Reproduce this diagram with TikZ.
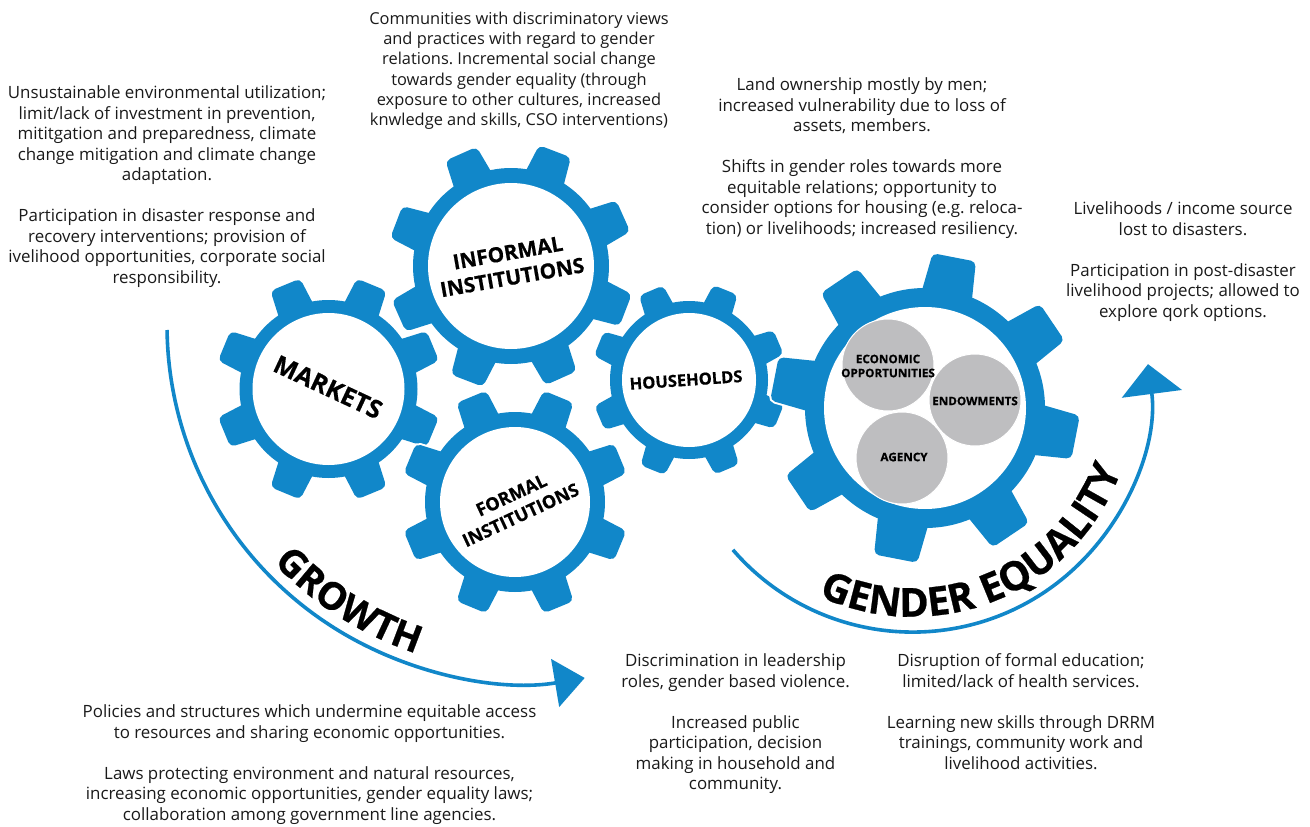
\documentclass[tikz,border=0pt]{standalone}
\usepackage{fontspec}
\setmainfont{Open Sans}
\newfontfamily\lblfont{Open Sans}[FakeBold=0.6]
\usetikzlibrary{arrows.meta,decorations.text}
\definecolor{gblue}{RGB}{17,135,201}
\definecolor{ggrey}{RGB}{190,190,192}
\definecolor{txt}{RGB}{26,26,26}
\frenchspacing
\newcommand\fl{\rule{0pt}{16pt}}
\newcommand\drawgear[8]{%
 \begin{scope}[shift={(#1,#2)}]
  \pgfmathsetmacro\gdt{asin(#5/#4)}
  \pgfmathsetmacro\gdb{asin(#6/(#3-8))}
  \foreach \k in {0,...,7}{
   \pgfmathsetmacro\ga{#7+45*\k}
   \draw[white, line width=4pt, rounded corners=5pt] ({\ga-\gdb}:{#3-8}) -- ({\ga-\gdt}:{#4}) -- ({\ga+\gdt}:{#4}) -- ({\ga+\gdb}:{#3-8}) -- cycle;
  }
  \draw[white, line width=4pt] (0,0) circle[radius=#3];
  \foreach \k in {0,...,7}{
   \pgfmathsetmacro\ga{#7+45*\k}
   \fill[gblue, rounded corners=5pt] ({\ga-\gdb}:{#3-8}) -- ({\ga-\gdt}:{#4}) -- ({\ga+\gdt}:{#4}) -- ({\ga+\gdb}:{#3-8}) -- cycle;
  }
  \fill[gblue] (0,0) circle[radius=#3];
  \fill[white] (0,0) circle[radius=#8];
 \end{scope}}
\tikzset{
 desc/.style={font=\fontsize{16.9}{20.5}\selectfont, align=center, inner sep=0pt, anchor=north, text=txt},
 gearlbl/.style={inner sep=0pt, align=center, text=black},
 greycirc/.style={circle, fill=ggrey, draw=white, line width=1pt, minimum size=92pt, inner sep=0pt},
 greylbl/.style={inner sep=0pt, align=center, text=black, font=\lblfont\bfseries\fontsize{11.7}{14}\selectfont},
 flow/.style={draw=gblue, line width=3.6pt}
}
\begin{document}
\begin{tikzpicture}[x=1pt,y=-1pt]
\fill[white] (0,0) rectangle (1310,827);
\useasboundingbox (0,0) rectangle (1310,827);

% gears
\drawgear{328.5}{389}{89}{114}{16}{19}{22.5}{76}
\drawgear{515}{502}{90}{115}{16}{19}{22.5}{75}
\drawgear{511}{266}{98}{124}{17}{21}{21}{83}
\drawgear{689}{380}{79}{98}{13}{16}{22}{67}
\drawgear{925}{408}{120}{155}{22}{26}{11}{101}

% gear labels
\node[gearlbl, font=\lblfont\bfseries\fontsize{25}{25}\selectfont, rotate=-25] (markets) at (328,387) {MARKETS};
\node[gearlbl, font=\lblfont\bfseries\fontsize{20.8}{25}\selectfont, rotate=10] (informal) at (510,265) {INFORMAL\\INSTITUTIONS};
\node[gearlbl, font=\lblfont\bfseries\fontsize{18}{22}\selectfont, rotate=25] (formal) at (516,505) {FORMAL\\INSTITUTIONS};
\node[gearlbl, font=\lblfont\bfseries\fontsize{16.5}{20}\selectfont, rotate=4] (households) at (686,380) {HOUSEHOLDS};

% grey circles
\node[greycirc] (eco) at (888,365) {};
\node[greycirc] (endow) at (975,400) {};
\node[greycirc] (agency) at (902,458) {};
\node[greylbl] (ecolbl) at (888,366) {ECONOMIC\\OPPORTUNITIES};
\node[greylbl] (endowlbl) at (975,401) {ENDOWMENTS};
\node[greylbl] (agencylbl) at (904,457) {AGENCY};

% arcs
\coordinate (grc) at (525,325);
\coordinate (gec) at (912.6,394.7);
\draw[flow, -{Triangle[length=30pt,width=48pt]}] (grc) ++(179.2:358) arc[start angle=179.2, end angle=80.4, radius=358];
\draw[flow, -{Triangle[length=30pt,width=60pt]}] (gec) ++(139.2:237.4) arc[start angle=139.2, end angle=-7.4, radius=237.4];
\path[decorate, decoration={text along path, text align=center, text={|\lblfont\bfseries\fontsize{38}{38}\selectfont|GROWTH}}] (grc) ++(150:346) arc[start angle=150, end angle=95, radius=346];
\path[decorate, decoration={text along path, text align=center, text={|\lblfont\bfseries\fontsize{40}{40}\selectfont|GENDER EQUALITY}}] (gec) ++(135:222) arc[start angle=135, end angle=0, radius=222];

% text blocks
\node[desc] (tA) at (167,82.3) {\fl Unsustainable environmental utilization;\\limit/lack of investment in prevention,\\mititgation and preparedness, climate\\change mitigation and climate change\\adaptation.\\[20.5pt]Participation in disaster response and\\recovery interventions; provision of\\ivelihood opportunities, corporate social\\responsibility.};
\node[desc, font=\fontsize{16.4}{20.2}\selectfont] (tB) at (519,8.3) {\fl Communities with discriminatory views\\and practices with regard to gender\\relations. Incremental social change\\towards gender equality (through\\exposure to other cultures, increased\\knwledge and skills, CSO interventions)};
\node[desc] (tC) at (862,74.3) {\fl Land ownership mostly by men;\\increased vulnerability due to loss of\\assets, members.\\[20.5pt]Shifts in gender roles towards more\\equitable relations; opportunity to\\consider options for housing (e.g. reloca-\\tion) or livelihoods; increased resiliency.};
\node[desc] (tD) at (1183,198.3) {\fl Livelihoods / income source\\lost to disasters.\\[20.5pt]Participation in post-disaster\\livelihood projects; allowed to\\explore qork options.};
\node[desc] (tE) at (309.5,701.7) {\fl Policies and structures which undermine equitable access\\to resources and sharing economic opportunities.\\[20.5pt]Laws protecting environment and natural resources,\\increasing economic opportunities, gender equality laws;\\collaboration among government line agencies.};
\node[desc] (tF) at (735.5,650.7) {\fl Discrimination in leadership\\roles, gender based violence.\\[20.5pt]Increased public\\participation, decision\\making in household and\\community.};
\node[desc] (tG) at (1021,650.7) {\fl Disruption of formal education;\\limited/lack of health services.\\[20.5pt]Learning new skills through DRRM\\trainings, community work and\\livelihood activities.};
\end{tikzpicture}
\end{document}
